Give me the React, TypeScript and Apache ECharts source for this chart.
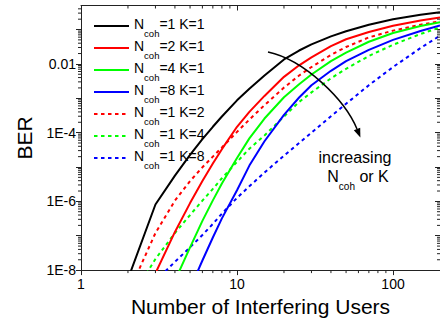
import React, { useEffect, useRef } from "react";
import * as echarts from "echarts";

const FONT = "'Liberation Sans', Arial, Helvetica, sans-serif";

// Number of interfering users (x values shared by all curves)
const users = [2, 3, 4, 5, 6, 7, 8, 10, 12, 15, 20, 25, 30, 40, 50, 70, 100, 150, 200];

// BER values per curve (null = not plotted)
const berN1K1 = [5.5e-9, 8.1e-7, 5.6e-6, 2.24e-5, 6.5e-5, 1.48e-4, 2.95e-4, 8.7e-4, 1.9e-3, 4.6e-3, 1.35e-2, 2.45e-2, 3.7e-2, 6.3e-2, 8.9e-2, 0.138, 0.2, 0.27, 0.32];
const berN2K1 = [6e-11, 8.1e-9, 1.29e-7, 8.9e-7, 3.9e-6, 1.26e-5, 3.3e-5, 1.48e-4, 4.0e-4, 1.17e-3, 4.2e-3, 9.1e-3, 1.55e-2, 3.3e-2, 5.2e-2, 8.5e-2, 0.129, 0.182, 0.224];
const berN4K1 = [null, null, 4.9e-9, 4.6e-8, 2.7e-7, 1.07e-6, 3.3e-6, 1.82e-5, 6.8e-5, 2.57e-4, 1.07e-3, 2.57e-3, 4.9e-3, 1.2e-2, 2.14e-2, 4.4e-2, 7.9e-2, 0.126, 0.162];
const berN8K1 = [null, null, null, 2.9e-9, 1.9e-8, 8.9e-8, 3.2e-7, 2.1e-6, 1.1e-5, 5.6e-5, 3.3e-4, 1.05e-3, 2.4e-3, 6.3e-3, 1.2e-2, 2.57e-2, 5.0e-2, 9.1e-2, 0.132];
const berN1K2 = [2e-9, 1.2e-7, 1.05e-6, 3.9e-6, 9.8e-6, 2.0e-5, 3.7e-5, 1.05e-4, 2.4e-4, 6.3e-4, 2.04e-3, 4.6e-3, 8.1e-3, 1.82e-2, 3.1e-2, 5.9e-2, 9.3e-2, 0.138, 0.174];
const berN1K4 = [1.07e-9, 2.1e-8, 1.2e-7, 4.0e-7, 1.05e-6, 2.3e-6, 4.7e-6, 1.41e-5, 3.4e-5, 8.3e-5, 2.95e-4, 7.8e-4, 1.48e-3, 3.8e-3, 7.2e-3, 1.7e-2, 3.6e-2, 7.4e-2, 0.115];
const berN1K8 = [null, 4.8e-9, 1.74e-8, 4.6e-8, 1.05e-7, 2.2e-7, 4.4e-7, 1.26e-6, 2.75e-6, 6.9e-6, 2.14e-5, 5.0e-5, 1.0e-4, 3.0e-4, 6.9e-4, 2.4e-3, 8.1e-3, 2.9e-2, 6.6e-2];

// legend labels: Ncoh value and K value
const seriesNames = ["N1K1", "N2K1", "N4K1", "N8K1", "N1K2", "N1K4", "N1K8"];
const legendNcoh = ["1", "2", "4", "8", "1", "1", "1"];
const legendK = ["1", "1", "1", "1", "2", "4", "8"];
const seriesValues = [berN1K1, berN2K1, berN4K1, berN8K1, berN1K2, berN1K4, berN1K8];
const seriesColors = ["#000000", "#ff0000", "#00ff00", "#0000ff", "#ff0000", "#00ff00", "#0000ff"];
const seriesDotted = [false, false, false, false, true, true, true];

const X_MIN = 1;
const X_MAX = 200;
const Y_MIN = 1e-8;
const Y_MAX = 0.5;
const AXIS_COLOR = "#222";

export default function App() {
  const ref = useRef<HTMLDivElement>(null);

  useEffect(() => {
    if (!ref.current) return;
    const chart = echarts.init(ref.current, null, { renderer: "svg" });

    // minor ticks at 2..9 x decade
    const minorTicks: number[][] = [];
    for (const dec of [1, 10, 100]) {
      for (let m = 2; m <= 9; m++) {
        const v = m * dec;
        if (v < X_MAX) {
          minorTicks.push([v, Y_MIN, 0]);
          minorTicks.push([v, Y_MAX, 1]);
        }
      }
    }
    for (let e = -8; e <= -1; e++) {
      for (let m = 2; m <= 9; m++) {
        const v = m * Math.pow(10, e);
        if (v < Y_MAX) {
          minorTicks.push([X_MIN, v, 2]);
          minorTicks.push([X_MAX, v, 3]);
        }
      }
    }

    const fmtY = (v: number) => {
      const e = Math.log10(v);
      const r = Math.round(e);
      if (Math.abs(e - r) > 1e-6) return "";
      if (r % 2 !== 0) return "";
      if (r === -2) return "0.01";
      if (r < -2) return "1E" + r;
      return "";
    };
    const fmtX = (v: number) => {
      const e = Math.log10(v);
      const r = Math.round(e);
      if (Math.abs(e - r) > 1e-6) return "";
      return String(Math.round(v));
    };

    const legendMap: Record<string, string> = {};
    seriesNames.forEach((n, i) => {
      legendMap[n] = `{n|N}{s|coh}{n|=${legendNcoh[i]} K=${legendK[i]}}`;
    });

    const lineSeries = seriesNames.map((name, i) => ({
      name,
      type: "line",
      xAxisIndex: 0,
      yAxisIndex: 0,
      showSymbol: false,
      symbol: "none",
      clip: true,
      data: users
        .map((u, j) => [u, seriesValues[i][j]])
        .filter((p) => p[1] !== null),
      lineStyle: {
        color: seriesColors[i],
        width: 2,
        type: seriesDotted[i] ? [3.5, 3.5] : "solid",
      },
      itemStyle: { color: seriesColors[i] },
      z: 10 - i,
    }));

    const option: any = {
      animation: false,
      grid: { left: 81, right: -2, top: 5.5, bottom: 47, containLabel: false },
      legend: {
        orient: "vertical",
        left: 88,
        top: 11.5,
        itemWidth: 35,
        itemHeight: 14,
        itemGap: 0,
        data: seriesNames,
        itemStyle: { opacity: 0 },
        formatter: (name: string) => legendMap[name],
        textStyle: {
          color: "#000",
          fontFamily: FONT,
          rich: {
            n: { fontSize: 14, fontFamily: FONT, color: "#000", lineHeight: 19, verticalAlign: "top" },
            s: { fontSize: 9.5, fontFamily: FONT, color: "#000", lineHeight: 7, verticalAlign: "top", padding: [12, 0, 0, 0] },
          },
        },
      },
      xAxis: [
        {
          type: "log",
          logBase: 10,
          min: X_MIN,
          max: X_MAX,
          position: "bottom",
          name: "Number of Interfering Users",
          nameLocation: "middle",
          nameGap: 21,
          nameTextStyle: { fontSize: 21, fontFamily: FONT, color: "#000" },
          axisLine: { lineStyle: { color: AXIS_COLOR, width: 1 } },
          axisTick: { inside: false, length: 5, lineStyle: { color: AXIS_COLOR } },
          axisLabel: { fontSize: 14, fontFamily: FONT, color: "#000", margin: 7, formatter: fmtX, showMaxLabel: false },
          splitLine: { show: false },
        },
        {
          type: "log",
          logBase: 10,
          min: X_MIN,
          max: X_MAX,
          position: "top",
          axisLine: { lineStyle: { color: AXIS_COLOR, width: 1 } },
          axisTick: { inside: true, length: 5, lineStyle: { color: AXIS_COLOR } },
          axisLabel: { show: false },
          splitLine: { show: false },
        },
      ],
      yAxis: [
        {
          type: "log",
          logBase: 10,
          min: Y_MIN,
          max: Y_MAX,
          position: "left",
          name: "BER",
          nameLocation: "middle",
          nameGap: 46,
          nameTextStyle: { fontSize: 21, fontFamily: FONT, color: "#000" },
          axisLine: { lineStyle: { color: AXIS_COLOR, width: 1 } },
          axisTick: { inside: false, length: 5, lineStyle: { color: AXIS_COLOR } },
          axisLabel: { fontSize: 14, fontFamily: FONT, color: "#000", margin: 5, formatter: fmtY, showMaxLabel: false },
          splitLine: { show: false },
        },
        {
          type: "log",
          logBase: 10,
          min: Y_MIN,
          max: Y_MAX,
          position: "right",
          axisLine: { lineStyle: { color: AXIS_COLOR, width: 1 } },
          axisTick: { inside: true, length: 5, lineStyle: { color: AXIS_COLOR } },
          axisLabel: { show: false },
          splitLine: { show: false },
        },
      ],
      series: [
        ...lineSeries,
        {
          type: "custom",
          name: "minorTicks",
          xAxisIndex: 0,
          yAxisIndex: 0,
          clip: false,
          silent: true,
          dimensions: ["x", "y", "c"],
          encode: { x: 0, y: 1 },
          data: minorTicks,
          renderItem: (params: any, api: any) => {
            const p = api.coord([api.value(0), api.value(1)]);
            const c = api.value(2);
            const L = 3;
            let shape;
            if (c === 0 || c === 1) shape = { x1: p[0], y1: p[1], x2: p[0], y2: p[1] + L };
            else shape = { x1: p[0] - L, y1: p[1], x2: p[0], y2: p[1] };
            return { type: "line", shape, style: { stroke: AXIS_COLOR, lineWidth: 1 } };
          },
          z: 20,
        },
      ],
      graphic: [
        {
          type: "bezierCurve",
          shape: { x1: 268, y1: 52, cpx1: 305, cpy1: 60, cpx2: 345, cpy2: 100, x2: 357, y2: 129 },
          style: { stroke: "#000", lineWidth: 1.5, fill: null },
          z: 30,
        },
        {
          type: "polygon",
          shape: { points: [[360.4, 137.5], [360.2, 127.7], [353.8, 130.3]] },
          style: { fill: "#000" },
          z: 30,
        },
        {
          type: "text",
          x: 355,
          y: 157,
          style: { text: "increasing", font: `16px ${FONT}`, fill: "#000", align: "center", verticalAlign: "middle" },
          z: 30,
        },
        {
          type: "text",
          x: 358,
          y: 178,
          style: {
            text: "{n|N}{s|coh}{n| or K}",
            align: "center",
            verticalAlign: "middle",
            rich: {
              n: { fontSize: 16, fontFamily: FONT, fill: "#000", lineHeight: 20, verticalAlign: "top" },
              s: { fontSize: 10, fontFamily: FONT, fill: "#000", lineHeight: 8, verticalAlign: "top", padding: [13, 0, 0, 0] },
            },
          },
          z: 30,
        },
      ],
    };

    chart.setOption(option);
    return () => chart.dispose();
  }, []);

  return (
    <div
      ref={ref}
      style={{ position: "fixed", left: 0, top: 0, width: 440, height: 322, background: "#fff" }}
    />
  );
}
